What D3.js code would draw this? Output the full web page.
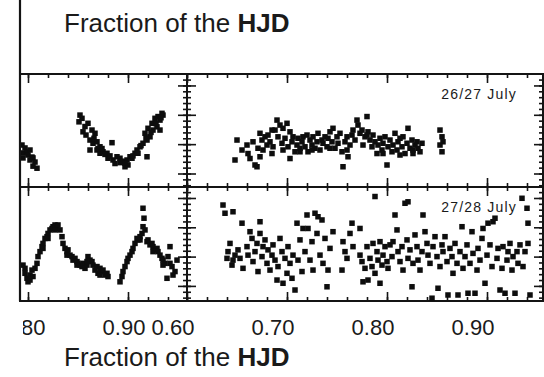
<!DOCTYPE html>
<html>
<head>
<meta charset="utf-8">
<script src="https://cdn.jsdelivr.net/npm/d3@7"></script>
<style>
  html, body { margin: 0; padding: 0; background: #fff; }
  svg { display: block; }
  text { font-family: "Liberation Sans", Arial, Helvetica, sans-serif; fill: #1a1a1a; }
</style>
</head>
<body>
<script>
// Light curves of two nights, plotted against the fractional part of the HJD.
// Each point is [HJD fraction, differential magnitude].
const nightLabels = ["26/27 July", "27/28 July"];
const xTickLabelsLeft = [0.80, 0.90];
const xTickLabelsRight = [0.60, 0.70, 0.80, 0.90];
const axisTitle = "Fraction of the ";
const axisTitleBold = "HJD";

const night1Left = [
  [0.794,0.203],[0.797,0.213],[0.795,0.230],[0.799,0.227],[0.800,0.237],[0.802,0.220],[0.804,0.244],
  [0.805,0.247],[0.807,0.261],[0.805,0.275],[0.809,0.282],[0.802,0.254],[0.795,0.247],
  [0.852,0.101],[0.851,0.124],[0.854,0.112],[0.860,0.129],[0.855,0.158],[0.858,0.169],[0.864,0.152],
  [0.867,0.163],[0.862,0.186],[0.865,0.197],[0.869,0.192],[0.872,0.209],[0.862,0.220],[0.869,0.220],
  [0.872,0.231],[0.875,0.226],[0.879,0.231],[0.884,0.195],[0.880,0.248],[0.885,0.254],[0.889,0.243],
  [0.892,0.248],[0.887,0.266],[0.892,0.263],[0.895,0.260],[0.899,0.254],[0.900,0.271],[0.897,0.277],
  [0.902,0.243],[0.904,0.248],[0.907,0.231],[0.909,0.220],[0.912,0.209],[0.910,0.231],[0.915,0.197],
  [0.919,0.186],[0.917,0.163],[0.922,0.175],[0.920,0.146],[0.925,0.152],[0.924,0.129],[0.929,0.141],
  [0.927,0.112],[0.930,0.106],[0.932,0.118],[0.934,0.095],[0.935,0.101],[0.932,0.152],[0.919,0.243],
  [0.870,0.215],[0.877,0.235],[0.882,0.240],[0.894,0.258],[0.897,0.265],[0.905,0.240],[0.913,0.205],
  [0.918,0.180],[0.923,0.160],[0.928,0.130],[0.933,0.110],[0.857,0.140],[0.866,0.180],[0.874,0.215]
];

const night1Right = [
  [0.650,0.186],[0.648,0.254],[0.655,0.220],[0.660,0.203],[0.661,0.232],[0.663,0.249],[0.666,0.192],
  [0.668,0.271],[0.670,0.277],[0.671,0.214],[0.673,0.163],[0.675,0.186],[0.676,0.220],[0.678,0.175],
  [0.680,0.203],[0.681,0.169],[0.683,0.192],[0.685,0.232],[0.686,0.209],[0.688,0.152],[0.690,0.118],
  [0.691,0.175],[0.693,0.135],[0.695,0.197],[0.696,0.220],[0.698,0.180],[0.700,0.129],[0.701,0.209],
  [0.703,0.249],[0.705,0.192],[0.706,0.175],[0.708,0.226],[0.710,0.203],[0.711,0.180],[0.713,0.214],
  [0.715,0.192],[0.716,0.175],[0.718,0.209],[0.720,0.169],[0.721,0.226],[0.723,0.186],[0.725,0.203],
  [0.726,0.175],[0.728,0.214],[0.730,0.192],[0.731,0.163],[0.733,0.220],[0.735,0.186],[0.736,0.197],
  [0.738,0.175],[0.740,0.209],[0.741,0.180],[0.743,0.158],[0.745,0.192],[0.746,0.146],[0.748,0.214],
  [0.750,0.175],[0.751,0.197],[0.753,0.163],[0.755,0.226],[0.756,0.277],[0.758,0.192],[0.760,0.175],
  [0.761,0.243],[0.763,0.203],[0.765,0.169],[0.766,0.152],[0.768,0.186],[0.770,0.118],[0.771,0.135],
  [0.773,0.163],[0.775,0.152],[0.776,0.203],[0.778,0.175],[0.780,0.106],[0.781,0.158],[0.783,0.186],
  [0.785,0.209],[0.786,0.169],[0.788,0.192],[0.790,0.232],[0.791,0.203],[0.793,0.180],[0.795,0.220],
  [0.796,0.197],[0.798,0.175],[0.800,0.271],[0.801,0.209],[0.803,0.186],[0.805,0.226],[0.806,0.203],
  [0.808,0.163],[0.810,0.220],[0.811,0.192],[0.813,0.237],[0.815,0.209],[0.816,0.175],[0.818,0.232],
  [0.820,0.197],[0.821,0.146],[0.823,0.214],[0.825,0.186],[0.826,0.220],[0.828,0.203],[0.830,0.192],
  [0.831,0.214],[0.833,0.226],[0.835,0.197],[0.853,0.152],[0.855,0.175],[0.856,0.192],[0.855,0.226],
  [0.853,0.203],[0.780,0.169],[0.703,0.158],[0.713,0.226],[0.743,0.214],[0.760,0.220],[0.796,0.232],
  [0.813,0.180],[0.826,0.232],[0.673,0.243],[0.685,0.152],[0.696,0.146],[0.725,0.220]
];

const night2Left = [
  [0.795,0.229],[0.797,0.257],[0.799,0.274],[0.800,0.286],[0.802,0.263],[0.804,0.246],[0.805,0.268],
  [0.807,0.240],[0.809,0.223],[0.810,0.200],[0.812,0.183],[0.814,0.166],[0.815,0.155],[0.817,0.138],
  [0.819,0.132],[0.820,0.121],[0.822,0.109],[0.824,0.104],[0.825,0.098],[0.827,0.092],[0.829,0.104],
  [0.830,0.092],[0.832,0.109],[0.834,0.132],[0.835,0.155],[0.837,0.172],[0.839,0.183],[0.840,0.177],
  [0.842,0.195],[0.844,0.200],[0.845,0.212],[0.847,0.206],[0.849,0.217],[0.850,0.223],[0.852,0.229],
  [0.854,0.234],[0.855,0.223],[0.857,0.240],[0.859,0.229],[0.860,0.200],[0.862,0.212],[0.864,0.217],
  [0.865,0.229],[0.867,0.246],[0.869,0.234],[0.870,0.257],[0.872,0.240],[0.874,0.251],[0.875,0.246],
  [0.877,0.263],[0.879,0.257],[0.880,0.268],
  [0.892,0.286],[0.894,0.268],[0.895,0.251],[0.897,0.234],[0.899,0.217],[0.900,0.206],[0.902,0.195],
  [0.904,0.183],[0.905,0.172],[0.907,0.155],[0.909,0.138],[0.910,0.143],[0.912,0.132],[0.914,0.121],
  [0.915,0.098],[0.916,0.069],[0.915,0.035],[0.917,0.109],[0.919,0.149],[0.920,0.143],[0.922,0.160],
  [0.924,0.155],[0.925,0.166],[0.927,0.177],[0.929,0.172],[0.930,0.183],[0.932,0.195],[0.934,0.206],
  [0.935,0.212],[0.937,0.223],[0.939,0.274],[0.940,0.200],[0.942,0.166],[0.944,0.234],[0.945,0.263],
  [0.947,0.251],[0.949,0.212],
  [0.802,0.280],[0.797,0.240],[0.815,0.172],[0.820,0.138],[0.827,0.109],[0.839,0.195],[0.849,0.229],
  [0.859,0.217],[0.872,0.263],[0.912,0.143],[0.925,0.183],[0.935,0.229],[0.942,0.223]
];

const night2Right = [
  [0.636,0.024],[0.638,0.052],[0.646,0.047],[0.655,0.086],[0.643,0.155],[0.641,0.183],[0.640,0.206],
  [0.645,0.229],[0.646,0.212],[0.648,0.195],[0.651,0.177],[0.653,0.206],[0.656,0.240],[0.660,0.166],
  [0.661,0.195],[0.663,0.115],[0.665,0.138],[0.666,0.217],[0.668,0.183],[0.670,0.155],[0.671,0.251],
  [0.673,0.081],[0.673,0.121],[0.675,0.200],[0.676,0.166],[0.678,0.143],[0.680,0.223],[0.681,0.177],
  [0.683,0.246],[0.685,0.195],[0.686,0.160],[0.688,0.212],[0.690,0.280],[0.691,0.234],[0.693,0.138],
  [0.695,0.183],[0.696,0.291],[0.698,0.206],[0.700,0.257],[0.701,0.166],[0.703,0.223],[0.705,0.274],
  [0.706,0.195],[0.708,0.314],[0.710,0.086],[0.711,0.212],[0.713,0.143],[0.715,0.251],[0.716,0.104],
  [0.718,0.183],[0.720,0.058],[0.721,0.104],[0.723,0.212],[0.725,0.149],[0.726,0.246],[0.728,0.052],
  [0.730,0.121],[0.731,0.064],[0.733,0.195],[0.735,0.075],[0.736,0.223],[0.738,0.138],[0.740,0.303],
  [0.741,0.246],[0.743,0.172],[0.746,0.115],[0.755,0.246],[0.756,0.149],[0.758,0.183],[0.760,0.206],
  [0.763,0.121],[0.765,0.086],[0.766,0.166],[0.773,0.104],[0.773,0.195],[0.775,0.217],[0.776,0.286],
  [0.778,0.240],[0.780,0.166],[0.781,0.280],[0.783,0.206],[0.785,0.234],[0.786,0.155],[0.788,-0.005],
  [0.788,0.257],[0.790,0.183],[0.791,0.212],[0.793,0.291],[0.793,0.149],[0.795,0.229],[0.796,0.195],
  [0.798,0.166],[0.800,0.217],[0.801,0.240],[0.803,0.160],[0.805,0.200],[0.806,0.149],[0.808,0.058],
  [0.810,0.109],[0.811,0.183],[0.813,0.217],[0.815,0.166],[0.816,0.246],[0.818,0.018],[0.820,0.143],
  [0.821,0.206],[0.821,0.013],[0.823,0.177],[0.825,0.303],[0.826,0.223],[0.828,0.126],[0.830,0.166],
  [0.831,0.212],[0.833,0.246],[0.835,0.183],[0.836,0.058],[0.838,0.115],[0.840,0.155],[0.841,0.195],
  [0.843,0.223],[0.845,0.342],[0.846,0.166],[0.848,0.132],[0.850,0.200],[0.851,0.308],[0.853,0.234],
  [0.855,0.160],[0.856,0.183],[0.858,0.132],[0.860,0.217],[0.861,0.331],[0.863,0.172],[0.865,0.200],
  [0.866,0.257],[0.868,0.155],[0.870,0.223],[0.871,0.331],[0.873,0.183],[0.875,0.098],[0.876,0.240],
  [0.878,0.200],[0.880,0.160],[0.881,0.325],[0.883,0.223],[0.885,0.115],[0.886,0.189],[0.888,0.325],
  [0.890,0.246],[0.891,0.172],[0.893,0.212],[0.895,0.138],[0.896,0.104],[0.898,0.291],[0.900,0.195],
  [0.901,0.086],[0.903,0.160],[0.905,0.234],[0.906,0.081],[0.908,0.069],[0.910,0.206],[0.911,0.172],
  [0.913,0.314],[0.915,0.240],[0.916,0.166],[0.918,0.325],[0.920,0.212],[0.921,0.183],[0.923,0.155],
  [0.925,0.246],[0.926,0.200],[0.928,0.325],[0.930,0.183],[0.931,0.223],[0.933,0.160],[0.935,0.001],
  [0.936,0.234],[0.938,0.183],[0.940,0.035],[0.941,0.086],[0.941,0.155],[0.943,0.331]
];

// ---- layout ----
const W = 544, H = 377;
const colL = [20, 187], colR = [187, 543];
const rowT = [74, 187], rowB = [187, 301];

const svg = d3.select("body").append("svg").attr("width", W).attr("height", H);

const xLeft = d3.scaleLinear().domain([0.792, 0.959]).range(colL);
const xRight = d3.scaleLinear().domain([0.60, 0.956]).range(colR);
const yTop = d3.scaleLinear().domain([-0.039, 0.346]).range(rowT);
const yBot = d3.scaleLinear().domain([-0.0375, 0.3515]).range(rowB);

const majorStep = 0.1, minorStep = 0.02;
function ticksOf(scale, step) {
  const [a, b] = scale.domain().slice().sort(d3.ascending);
  const out = [];
  for (let k = Math.ceil(a / step - 1e-9); k * step <= b + 1e-9; k++) out.push(+(k * step).toFixed(4));
  return out;
}

const frameColor = "#141414";

// tick marks: each axis drawn twice, short minor ticks and long major ticks
function tickAxis(g, axisFn, scale) {
  [[minorStep, 4], [majorStep, 9]].forEach(([step, len]) => {
    g.append("g").call(
      axisFn(scale).tickValues(ticksOf(scale, step)).tickSize(len).tickFormat("")
    ).call(s => s.select(".domain").remove())
     .call(s => s.selectAll("line").attr("stroke", frameColor).attr("stroke-width", 1.6));
  });
}

const panels = [
  { x: xLeft, y: yTop, data: night1Left },
  { x: xRight, y: yTop, data: night1Right, label: nightLabels[0] },
  { x: xLeft, y: yBot, data: night2Left },
  { x: xRight, y: yBot, data: night2Right, label: nightLabels[1] }
];

panels.forEach(p => {
  const [x0, x1] = p.x.range();
  const [y0, y1] = p.y.range();
  const g = svg.append("g");

  // horizontal ticks along top (pointing down) and bottom (pointing up)
  tickAxis(g.append("g").attr("transform", `translate(0,${y0})`), d3.axisBottom, p.x);
  tickAxis(g.append("g").attr("transform", `translate(0,${y1})`), d3.axisTop, p.x);
  // vertical ticks along inner (pointing right) and right (pointing left) edges
  if (x0 > 30) tickAxis(g.append("g").attr("transform", `translate(${x0},0)`), d3.axisRight, p.y);
  tickAxis(g.append("g").attr("transform", `translate(${x1},0)`), d3.axisLeft, p.y);

  // frame
  g.append("rect").attr("x", x0).attr("y", y0).attr("width", x1 - x0).attr("height", y1 - y0)
    .attr("fill", "none").attr("stroke", frameColor).attr("stroke-width", 2);

  // points
  g.append("g").selectAll("rect").data(p.data).join("rect")
    .attr("x", d => p.x(d[0]) - 2.75).attr("y", d => p.y(d[1]) - 2.75)
    .attr("width", 5.5).attr("height", 5.5).attr("fill", "#0d0d0d");

  if (p.label) {
    g.append("text").attr("x", x1 - 26).attr("y", y0 + 25).attr("text-anchor", "end")
      .attr("font-size", 14).attr("letter-spacing", 1.2).text(p.label);
  }
});

// left border continues to the top of the page
svg.append("line").attr("x1", 20).attr("x2", 20).attr("y1", 0).attr("y2", rowB[1])
  .attr("stroke", frameColor).attr("stroke-width", 2.2);

// x tick labels (left panel labels clipped at its left edge)
svg.append("clipPath").attr("id", "clipL").append("rect")
  .attr("x", 23).attr("y", 0).attr("width", W).attr("height", H);
const labY = 335;
svg.append("g").attr("clip-path", "url(#clipL)").selectAll("text").data(xTickLabelsLeft).join("text")
  .attr("x", d => xLeft(d) - 4).attr("y", labY).attr("text-anchor", "middle")
  .attr("font-size", 22).text(d => d.toFixed(2));
svg.append("g").selectAll("text").data(xTickLabelsRight).join("text")
  .attr("x", d => xRight(d) - 14).attr("y", labY).attr("text-anchor", "middle")
  .attr("font-size", 22).text(d => d.toFixed(2));

// axis titles above and below
[32, 366].forEach(yb => {
  const t = svg.append("text").attr("x", 64).attr("y", yb).attr("font-size", 26);
  t.append("tspan").text(axisTitle);
  t.append("tspan").attr("font-weight", "bold").text(axisTitleBold);
});
</script>
</body>
</html>
